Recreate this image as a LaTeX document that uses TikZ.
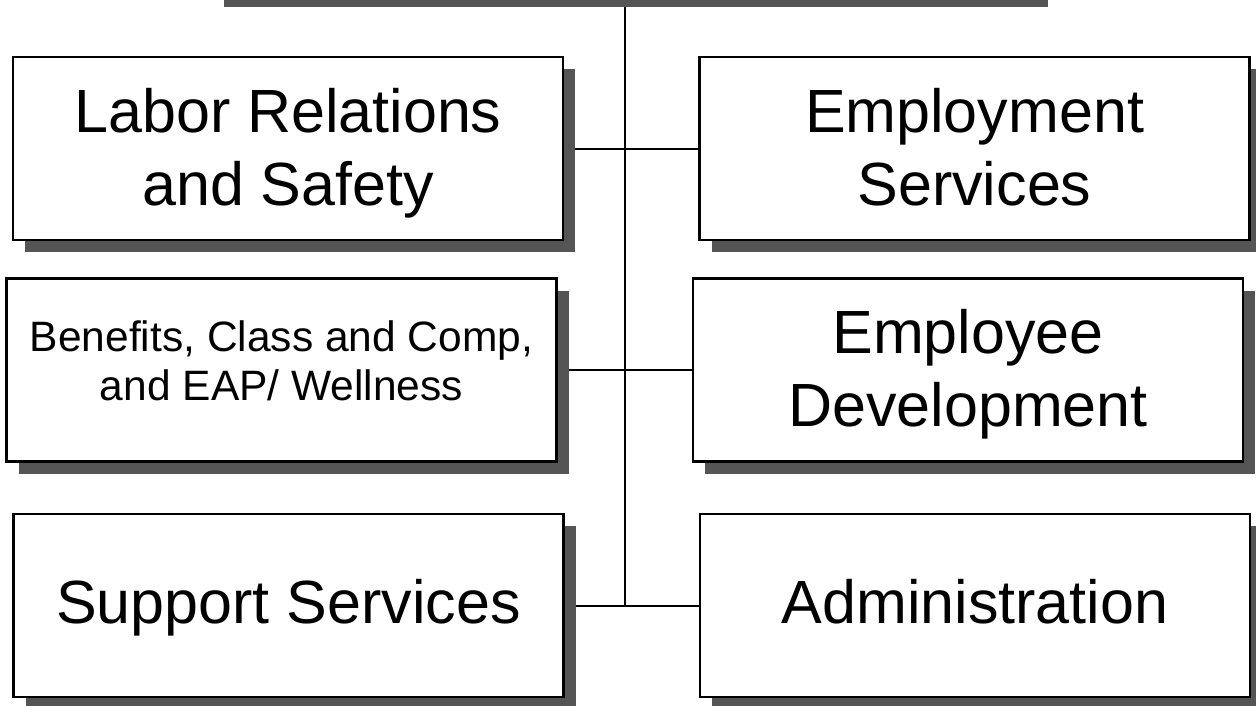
\documentclass[tikz,border=0pt]{standalone}
\usepackage{fontspec}
\setmainfont{Liberation Sans}
\usetikzlibrary{shadows}
\definecolor{shade}{HTML}{555555}
\newcommand\rowtext[1]{\hbox to 0pt{\hss#1\hss}}
\newcommand\textblock[3]{\raisebox{0pt}[#1][0pt]{\vbox{\baselineskip=#2\lineskiplimit=-1000pt\lineskip=0pt #3}}}
\tikzset{
 unit/.style={draw=black, line width=2.5pt, fill=white, minimum width=550pt, minimum height=183pt,
   inner sep=0pt, outer sep=0pt,
   drop shadow={shadow xshift=12pt, shadow yshift=-12pt, fill=shade, opacity=1}},
 big/.style={font=\fontsize{61pt}{73pt}\selectfont},
 small/.style={font=\fontsize{42.5pt}{49pt}\selectfont},
 link/.style={line width=2pt},
 spineline/.style={line width=2.6pt},
 topbar/.style={fill=shade, draw=none, minimum width=824pt, minimum height=17pt, inner sep=0pt},
}
\begin{document}
\begin{tikzpicture}[x=1pt,y=-1pt]
\useasboundingbox (0,0) rectangle (1256,705);
\fill[white] (0,0) rectangle (1256,705);
\node[topbar] (bar) at (636,-1.5) {};
\coordinate (spine) at (625,0);
\node[unit,big] (L1) at (288,148.5) {\textblock{113pt}{73pt}{\rowtext{Labor Relations}\rowtext{and Safety}}};
\node[unit,small] (L2) at (281.5,370) {\textblock{60pt}{49pt}{\rowtext{Benefits, Class and Comp,}\rowtext{and EAP/ Wellness}}};
\node[unit,big] (L3) at (288.5,605.5) {\textblock{36pt}{73pt}{\rowtext{Support Services}}};
\node[unit,big] (R1) at (974.5,148.5) {\textblock{113pt}{73pt}{\rowtext{Employment}\rowtext{Services}}};
\node[unit,big] (R2) at (968,370) {\textblock{113pt}{73pt}{\rowtext{Employee}\rowtext{Development}}};
\node[unit,big] (R3) at (975,605.5) {\textblock{36pt}{73pt}{\rowtext{Administration}}};
\draw[spineline] (bar.south -| spine) -- (L3.east -| spine);
\draw[link] ([xshift=12pt]L1.east) -- (R1.west);
\draw[link] ([xshift=12pt]L2.east) -- (R2.west);
\draw[link] ([xshift=12pt]L3.east) -- (R3.west);
\end{tikzpicture}
\end{document}
